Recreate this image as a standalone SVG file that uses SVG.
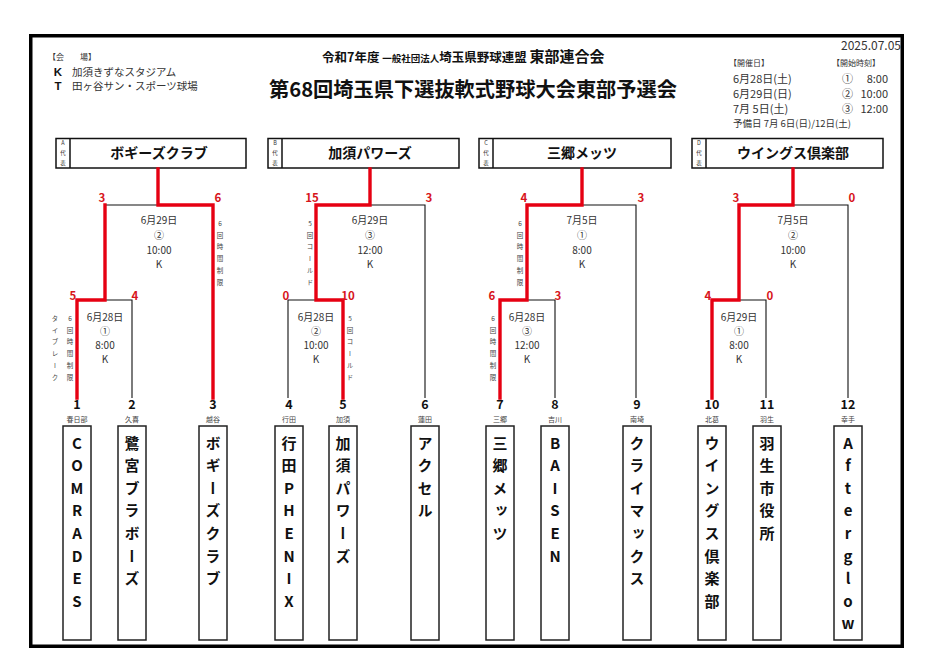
<svg xmlns="http://www.w3.org/2000/svg" width="939" height="664" viewBox="0 0 939 664">
<style>
text{font-family:"Noto Sans CJK JP","Noto Sans",sans-serif;}
.frame{fill:none;stroke:#000;stroke-width:3.5}
.hbox{fill:#fff;stroke:#111;stroke-width:1.5}
.tbox{fill:#fff;stroke:#222;stroke-width:1.5}
.blk{fill:none;stroke:#111;stroke-width:1.1}
.red{fill:none;stroke:#e60012;stroke-width:3.4;stroke-linejoin:miter;stroke-linecap:square}
.score{fill:#d7151b;font-size:11.5px;font-weight:700;text-anchor:middle}
.info{fill:#333;font-size:10px;text-anchor:middle}
.note{fill:#444;font-size:6.5px;writing-mode:vertical-rl;text-orientation:upright;letter-spacing:5.3px}
.num{fill:#111;font-size:12.5px;font-weight:700;text-anchor:middle}
.town{fill:#444;font-size:7px;text-anchor:middle}
.tname{fill:#111;font-size:15px;font-weight:700;writing-mode:vertical-rl;text-orientation:upright;letter-spacing:7.6px}
.rep{fill:#111;font-size:14px;font-weight:700;text-anchor:middle}
.cell{fill:#333;font-size:5.5px;text-anchor:middle}
.hdr{fill:#333}
.kt{font-family:"Liberation Sans",Arial,sans-serif;font-size:11.5px;font-weight:700;text-anchor:middle;fill:#111}
</style>
<rect x="30.75" y="35.75" width="871.5" height="610.5" class="frame"/>

<g id="header-left">
<text x="48" y="60" font-size="8" class="hdr">【会　　場】</text>
<text x="58" y="76" class="kt">K</text>
<text x="72" y="75.5" font-size="10.5" class="hdr">加須きずなスタジアム</text>
<text x="58" y="90" class="kt">T</text>
<text x="72" y="89.5" font-size="10.5" class="hdr">田ヶ谷サン・スポーツ球場</text>
</g>

<g id="title">
<text x="322" y="62" fill="#111" font-weight="700"><tspan font-size="12.5">令和7年度 </tspan><tspan font-size="9.5">一般社団法人</tspan><tspan font-size="12.5">埼玉県野球連盟 </tspan><tspan font-size="15">東部連合会</tspan></text>
<text x="269" y="97" fill="#111" font-size="20" font-weight="700" textLength="408" lengthAdjust="spacingAndGlyphs">第68回埼玉県下選抜軟式野球大会東部予選会</text>
</g>

<g id="header-right">
<text x="901" y="50" font-size="12" text-anchor="end" class="hdr">2025.07.05</text>
<text x="729" y="66" font-size="8" class="hdr">【開催日】</text>
<text x="832" y="66" font-size="8" class="hdr">【開始時刻】</text>
<text x="733" y="83" font-size="11" class="hdr">6月28日(土)</text>
<text x="733" y="98" font-size="11" class="hdr">6月29日(日)</text>
<text x="733" y="113" font-size="11" class="hdr">7月  5日(土)</text>
<text x="842" y="83" font-size="11" class="hdr">①</text>
<text x="888" y="83" font-size="11" text-anchor="end" class="hdr">8:00</text>
<text x="842" y="98" font-size="11" class="hdr">②</text>
<text x="888" y="98" font-size="11" text-anchor="end" class="hdr">10:00</text>
<text x="842" y="113" font-size="11" class="hdr">③</text>
<text x="888" y="113" font-size="11" text-anchor="end" class="hdr">12:00</text>
<text x="733" y="127" font-size="9.5" class="hdr">予備日 7月 6日(日)/12日(土)</text>
</g>

<g id="rep-A">
<rect x="56" y="138.5" width="190" height="29.5" class="hbox"/>
<line x1="70" y1="138.5" x2="70" y2="168" class="hbox"/>
<text class="cell" x="63" y="144.5">A</text><text class="cell" x="63" y="155">代</text><text class="cell" x="63" y="165">表</text>
<text class="rep" x="159" y="158">ボギーズクラブ</text>
</g>
<g id="rep-B">
<rect x="268" y="138.5" width="191" height="29.5" class="hbox"/>
<line x1="282" y1="138.5" x2="282" y2="168" class="hbox"/>
<text class="cell" x="275" y="144.5">B</text><text class="cell" x="275" y="155">代</text><text class="cell" x="275" y="165">表</text>
<text class="rep" x="370" y="158">加須パワーズ</text>
</g>
<g id="rep-C">
<rect x="479" y="138.5" width="192" height="29.5" class="hbox"/>
<line x1="493" y1="138.5" x2="493" y2="168" class="hbox"/>
<text class="cell" x="486" y="144.5">C</text><text class="cell" x="486" y="155">代</text><text class="cell" x="486" y="165">表</text>
<text class="rep" x="582" y="158">三郷メッツ</text>
</g>
<g id="rep-D">
<rect x="692" y="138.5" width="191" height="29.5" class="hbox"/>
<line x1="706" y1="138.5" x2="706" y2="168" class="hbox"/>
<text class="cell" x="699" y="144.5">D</text><text class="cell" x="699" y="155">代</text><text class="cell" x="699" y="165">表</text>
<text class="rep" x="793" y="158">ウイングス倶楽部</text>
</g>

<g id="connectors">
<path class="blk" d="M105,205H158 M105,300H132V398 M370,205H425V398 M288,398V300H316 M582,205H636V398 M527,300H555V398 M793,205H848V398 M739,300H766V398"/>
<path class="red" d="M158,169V205H213V398 M105,205V300H77V398 M370,169V205H316V300H343V398 M582,169V205H527V300H500V398 M793,169V205H739V300H712V398"/>
</g>

<g id="scores">
<text class="score" x="102" y="202">3</text><text class="score" x="218" y="202">6</text>
<text class="score" x="73" y="300">5</text><text class="score" x="135" y="300">4</text>
<text class="score" x="312" y="202">15</text><text class="score" x="429" y="202">3</text>
<text class="score" x="286" y="300">0</text><text class="score" x="348" y="300">10</text>
<text class="score" x="524" y="202">4</text><text class="score" x="641" y="202">3</text>
<text class="score" x="492" y="300">6</text><text class="score" x="558" y="300">3</text>
<text class="score" x="736" y="202">3</text><text class="score" x="852" y="202">0</text>
<text class="score" x="708" y="300">4</text><text class="score" x="770" y="300">0</text>
</g>

<g id="match-info">
<text class="info" x="159" y="223.5">6月29日</text><text class="info" x="159" y="238.5">②</text><text class="info" x="159" y="253.5">10:00</text><text class="info" x="159" y="267.5">K</text>
<text class="info" x="105" y="320.5">6月28日</text><text class="info" x="105" y="334.5">①</text><text class="info" x="105" y="349">8:00</text><text class="info" x="105" y="363">K</text>
<text class="info" x="370" y="223.5">6月29日</text><text class="info" x="370" y="238.5">③</text><text class="info" x="370" y="253.5">12:00</text><text class="info" x="370" y="267.5">K</text>
<text class="info" x="316" y="320.5">6月28日</text><text class="info" x="316" y="334.5">②</text><text class="info" x="316" y="349">10:00</text><text class="info" x="316" y="363">K</text>
<text class="info" x="582" y="223.5">7月5日</text><text class="info" x="582" y="238.5">①</text><text class="info" x="582" y="253.5">8:00</text><text class="info" x="582" y="267.5">K</text>
<text class="info" x="527" y="320.5">6月28日</text><text class="info" x="527" y="334.5">③</text><text class="info" x="527" y="349">12:00</text><text class="info" x="527" y="363">K</text>
<text class="info" x="793" y="223.5">7月5日</text><text class="info" x="793" y="238.5">②</text><text class="info" x="793" y="253.5">10:00</text><text class="info" x="793" y="267.5">K</text>
<text class="info" x="739" y="320.5">6月29日</text><text class="info" x="739" y="334.5">①</text><text class="info" x="739" y="349">8:00</text><text class="info" x="739" y="363">K</text>
</g>

<g id="notes">
<text class="note" x="220" y="220">6回時間制限</text>
<text class="note" x="55" y="315">タイブレーク</text>
<text class="note" x="70" y="315">6回時間制限</text>
<text class="note" x="310" y="220">5回コールド</text>
<text class="note" x="350" y="315">5回コールド</text>
<text class="note" x="520" y="220">6回時間制限</text>
<text class="note" x="493" y="315">6回時間制限</text>
</g>

<g id="team-1"><text class="num" x="77" y="408.5">1</text><text class="town" x="77" y="421.5">春日部</text><rect class="tbox" x="63" y="426" width="28" height="214"/><text class="tname" x="77" y="435.5">COMRADES</text></g>
<g id="team-2"><text class="num" x="132" y="408.5">2</text><text class="town" x="132" y="421.5">久喜</text><rect class="tbox" x="118" y="426" width="28" height="214"/><text class="tname" x="132" y="435.5">鷺宮ブラボーズ</text></g>
<g id="team-3"><text class="num" x="213" y="408.5">3</text><text class="town" x="213" y="421.5">越谷</text><rect class="tbox" x="199" y="426" width="28" height="214"/><text class="tname" x="213" y="435.5">ボギーズクラブ</text></g>
<g id="team-4"><text class="num" x="289" y="408.5">4</text><text class="town" x="289" y="421.5">行田</text><rect class="tbox" x="275" y="426" width="28" height="214"/><text class="tname" x="289" y="435.5">行田PHENIX</text></g>
<g id="team-5"><text class="num" x="343" y="408.5">5</text><text class="town" x="343" y="421.5">加須</text><rect class="tbox" x="329" y="426" width="28" height="214"/><text class="tname" x="343" y="435.5">加須パワーズ</text></g>
<g id="team-6"><text class="num" x="425" y="408.5">6</text><text class="town" x="425" y="421.5">蓮田</text><rect class="tbox" x="411" y="426" width="28" height="214"/><text class="tname" x="425" y="435.5">アクセル</text></g>
<g id="team-7"><text class="num" x="500" y="408.5">7</text><text class="town" x="500" y="421.5">三郷</text><rect class="tbox" x="486" y="426" width="28" height="214"/><text class="tname" x="500" y="435.5">三郷メッツ</text></g>
<g id="team-8"><text class="num" x="555" y="408.5">8</text><text class="town" x="555" y="421.5">吉川</text><rect class="tbox" x="541" y="426" width="28" height="214"/><text class="tname" x="555" y="435.5">BAISEN</text></g>
<g id="team-9"><text class="num" x="637" y="408.5">9</text><text class="town" x="637" y="421.5">南埼</text><rect class="tbox" x="623" y="426" width="28" height="214"/><text class="tname" x="637" y="435.5">クライマックス</text></g>
<g id="team-10"><text class="num" x="712" y="408.5">10</text><text class="town" x="712" y="421.5">北葛</text><rect class="tbox" x="698" y="426" width="28" height="214"/><text class="tname" x="712" y="435.5">ウイングス倶楽部</text></g>
<g id="team-11"><text class="num" x="767" y="408.5">11</text><text class="town" x="767" y="421.5">羽生</text><rect class="tbox" x="753" y="426" width="28" height="214"/><text class="tname" x="767" y="435.5">羽生市役所</text></g>
<g id="team-12"><text class="num" x="848" y="408.5">12</text><text class="town" x="848" y="421.5">幸手</text><rect class="tbox" x="834" y="426" width="28" height="214"/><text class="tname" x="848" y="435.5">Afterglow</text></g>
</svg>
